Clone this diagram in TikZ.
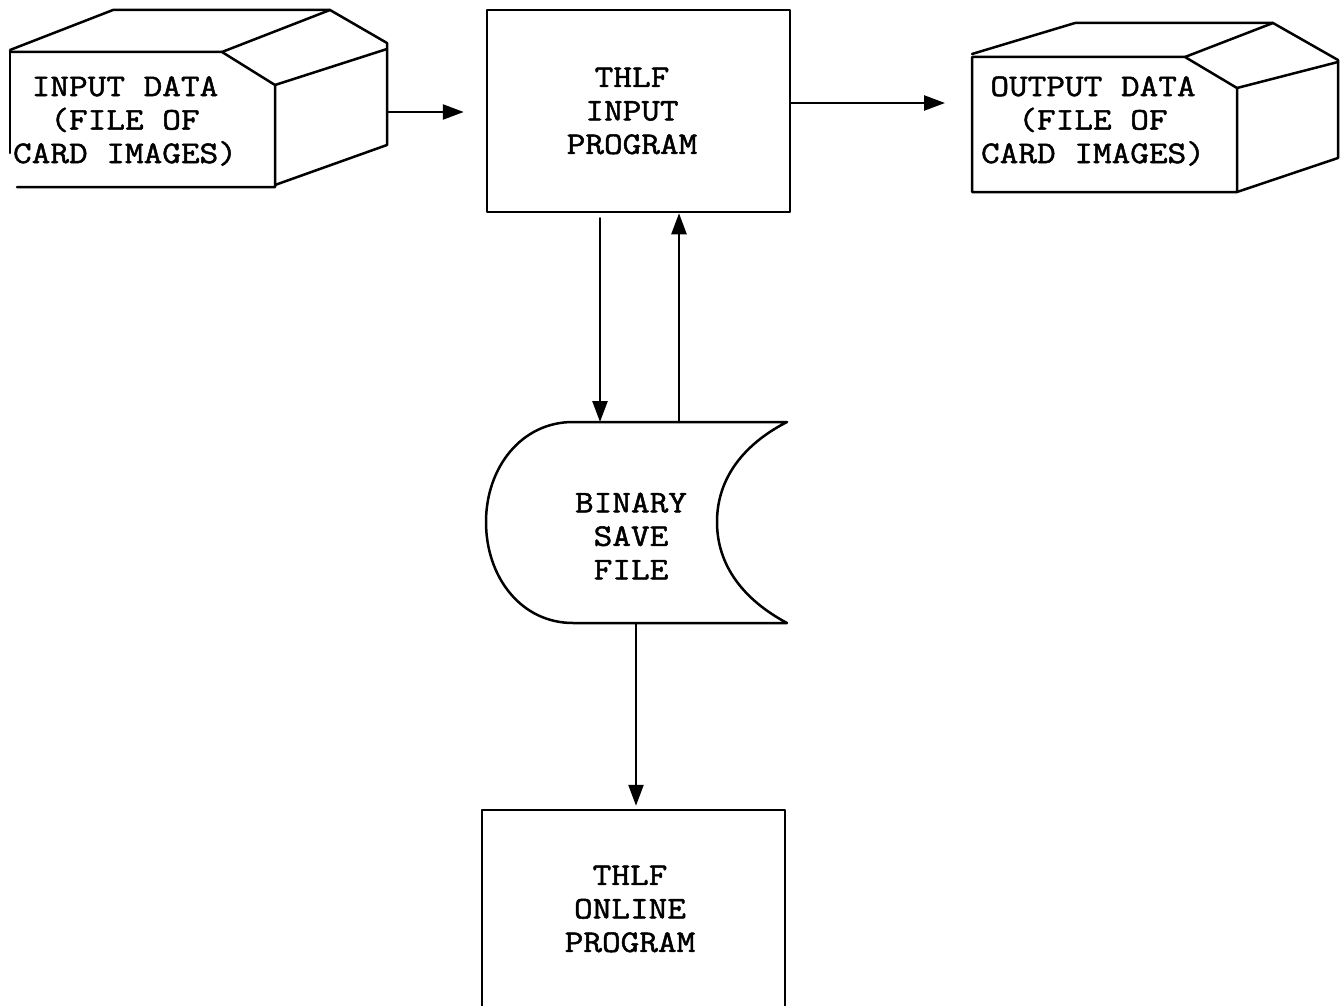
\documentclass[tikz,border=0pt]{standalone}
\usepackage{fontspec}
\setmonofont{Latin Modern Mono}[FakeStretch=1.15,FakeBold=1.6]
\usetikzlibrary{arrows.meta}
\begin{document}
\begin{tikzpicture}[x=1pt,y=-1pt,
  line width=2.5pt, line join=round, line cap=round,
  flow/.style={-{Triangle[length=21pt,width=15pt]}},
  lbl/.style={font=\ttfamily\fontsize{31.5}{33.5}\selectfont, align=center, inner sep=0pt},
  progbox/.style={draw, rectangle, inner sep=0pt}]
\useasboundingbox (0,0) rectangle (1344,1006);
\clip (0,0) rectangle (1344,1006);

% input card file (3-D box)
\draw (10,52) -- (222,52) -- (275,85) -- (275,187) -- (17,187);
\draw (10,52) -- (10,153);
\draw (10,50) -- (113,10) -- (330,10) -- (387,43) -- (387,145) -- (275,185);
\draw (222,52) -- (330,10);
\draw (275,85) -- (387,49);
\node[lbl] (indata) at (125,121) {INPUT DATA\\(FILE OF\\CARD IMAGES)};
\coordinate (inR) at (387,112);

% output card file (3-D box)
\draw (972,57) -- (1185,57) -- (1237,88) -- (1237,192) -- (972,192) -- cycle;
\draw (972,54) -- (1075,23) -- (1273,23) -- (1338,60) -- (1338,158) -- (1237,192);
\draw (1185,57) -- (1273,23);
\draw (1237,88) -- (1338,62);
\node[lbl] (outdata) at (1093,121) {OUTPUT DATA\\(FILE OF\\CARD IMAGES)};
\coordinate (outL) at (972,103);

% input program
\node[progbox, minimum width=303pt, minimum height=202pt] (inprog) at (638.5,111) {};
\node[lbl] (inlbl) at (632,111) {THLF\\INPUT\\PROGRAM};

% binary save file (stored data symbol)
\draw (787,422) -- (573,422)
  .. controls (521,422) and (486,468) .. (486,522)
  .. controls (486,577) and (521,623) .. (573,623) -- (787,623)
  .. controls (744,600) and (717,566) .. (717,522)
  .. controls (717,478) and (744,444) .. (787,422);
\node[lbl] (save) at (631,536) {BINARY\\SAVE\\FILE};
\coordinate (saveTopA) at (600,422);
\coordinate (saveTopB) at (679,422);
\coordinate (saveBot) at (636,623);

% online program (runs off the lower edge)
\node[progbox, minimum width=303pt, minimum height=230pt] (onprog) at (633.5,925) {};
\node[lbl] (onlbl) at (630,909) {THLF\\ONLINE\\PROGRAM};

% connectors
\draw[flow, shorten >=22pt] (inR) -- (inR -| inprog.west);
\draw[flow, shorten >=27pt] (inprog.east |- outL) -- (outL);
\draw[flow, shorten <=5pt] (inprog.south -| saveTopA) -- (saveTopA);
\draw[flow] (saveTopB) -- (inprog.south -| saveTopB);
\draw[flow, shorten >=3pt] (saveBot) -- (onprog.north -| saveBot);
\end{tikzpicture}
\end{document}
